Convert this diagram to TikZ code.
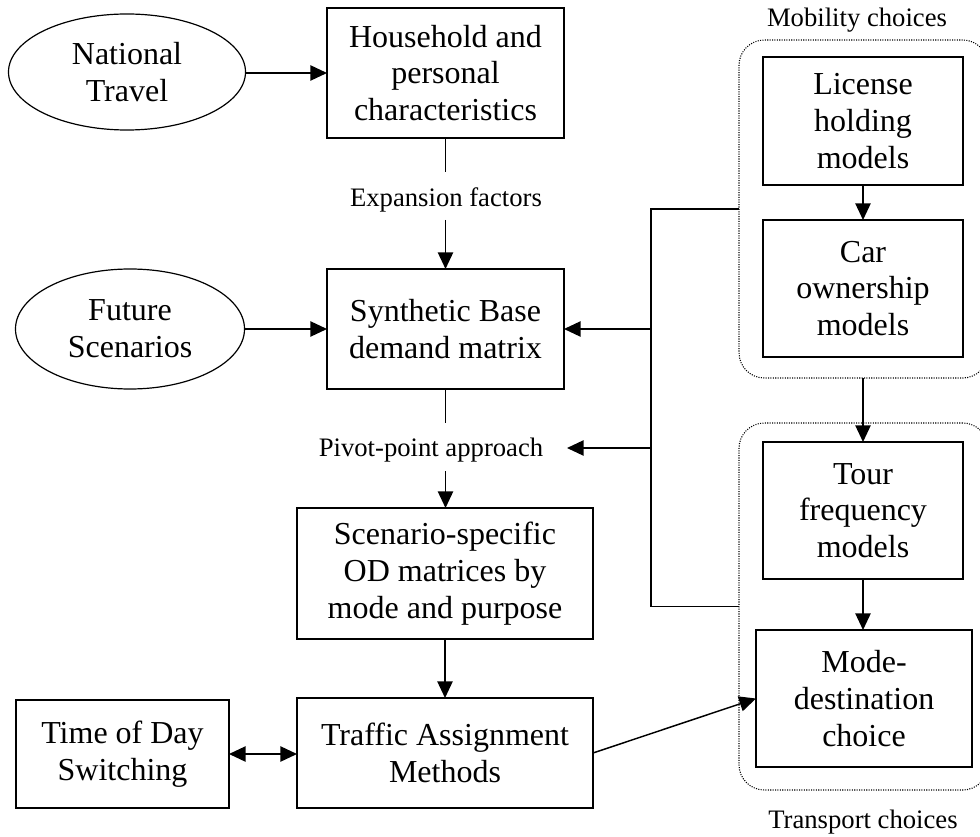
\documentclass[tikz,border=0pt]{standalone}
\usepackage{fontspec}
\setmainfont{Liberation Serif}
\usetikzlibrary{shapes.geometric,arrows.meta}
\begin{document}
\begin{tikzpicture}[x=0.75pt,y=-0.75pt,
  every node/.style={inner sep=0pt, outer sep=0pt},
  box/.style={draw, line width=1.1pt, align=center, font=\fontsize{24}{27.6}\selectfont},
  oval/.style={draw, ellipse, line width=0.9pt, align=center, font=\fontsize{24}{27.6}\selectfont},
  lbl/.style={font=\fontsize{20}{24}\selectfont},
  grp/.style={draw, line width=0.8pt, dash pattern=on 0.8pt off 1pt, rounded corners=19pt},
  conn/.style={line width=1.1pt},
  arr/.style={conn, -{Triangle[length=12.5pt,width=11.5pt]}},
  darr/.style={conn, {Triangle[length=12.5pt,width=11.5pt]}-{Triangle[length=12.5pt,width=11.5pt]}},
]
\useasboundingbox (0,0) rectangle (980,837);
% groups
\node[grp, minimum width=186.75pt, minimum height=253.5pt] (mob) at (863.5,209) {};
\node[grp, minimum width=186.75pt, minimum height=275.25pt] (trans) at (863.5,606.5) {};
\node[lbl] (mobl) at (857,20) {Mobility choices};
\node[lbl] (transl) at (863,822) {Transport choices};
% ovals
\node[oval, minimum width=177.75pt, minimum height=87pt] (nt) at (127,72) {National\\Travel};
\node[oval, minimum width=171.75pt, minimum height=90pt] (fs) at (130,329) {Future\\Scenarios};
% main boxes
\node[box, minimum width=177.75pt, minimum height=97.5pt] (hh) at (445.5,73) {Household and\\personal\\characteristics};
\node[box, minimum width=177.75pt, minimum height=90pt] (sb) at (445.5,329) {Synthetic Base\\demand matrix};
\node[box, minimum width=222pt, minimum height=98.25pt] (sc) at (445,573.5) {Scenario-specific\\OD matrices by\\mode and purpose};
\node[box, minimum width=222pt, minimum height=82.5pt] (ta) at (445,753) {Traffic Assignment\\Methods};
\node[box, minimum width=159.75pt, minimum height=81pt] (td) at (122.5,754) {Time of Day\\Switching};
% right boxes
\node[box, minimum width=150pt, minimum height=96pt] (lh) at (863,121) {License\\holding\\models};
\node[box, minimum width=150pt, minimum height=102.75pt] (co) at (863,288.5) {Car\\ownership\\models};
\node[box, minimum width=150pt, minimum height=102.75pt] (tf) at (863,510.5) {Tour\\frequency\\models};
\node[box, minimum width=162pt, minimum height=102.75pt] (md) at (864,698.5) {Mode-\\destination\\choice};
% labels
\node[lbl] (exp) at (446,200) {Expansion factors};
\node[lbl] (pv) at (431,450) {Pivot-point approach};
% coordinates
\coordinate (e1) at (445.5,172);
\coordinate (e2) at (445.5,220);
\coordinate (p1) at (445.5,423);
\coordinate (p2) at (445.5,471);
\coordinate (jx) at (651,209);
\coordinate (pvtip) at (567,448);
% connectors
\draw[arr] (nt.east |- hh.west) -- (hh.west);
\draw[arr] (fs.east) -- (sb.west);
\draw[conn] (hh.south) -- (e1);
\draw[arr] (e2) -- (sb.north);
\draw[conn] (sb.south) -- (p1);
\draw[arr] (p2) -- (p2 |- sc.north);
\draw[arr] (sc.south) -- (ta.north);
\draw[darr] (td.east) -- (td.east -| ta.west);
\draw[arr] (ta.east) -- (md.west);
\draw[arr] (lh.south) -- (co.north);
\draw[arr] (tf.south) -- (tf.south |- md.north);
\draw[arr] (tf.north |- mob.south) -- (tf.north);
\draw[conn] (mob.west) -- (jx) -- (jx |- trans.west) -- (trans.west);
\draw[arr] (jx |- sb.east) -- (sb.east);
\draw[arr] (jx |- pvtip) -- (pvtip);
\end{tikzpicture}
\end{document}
